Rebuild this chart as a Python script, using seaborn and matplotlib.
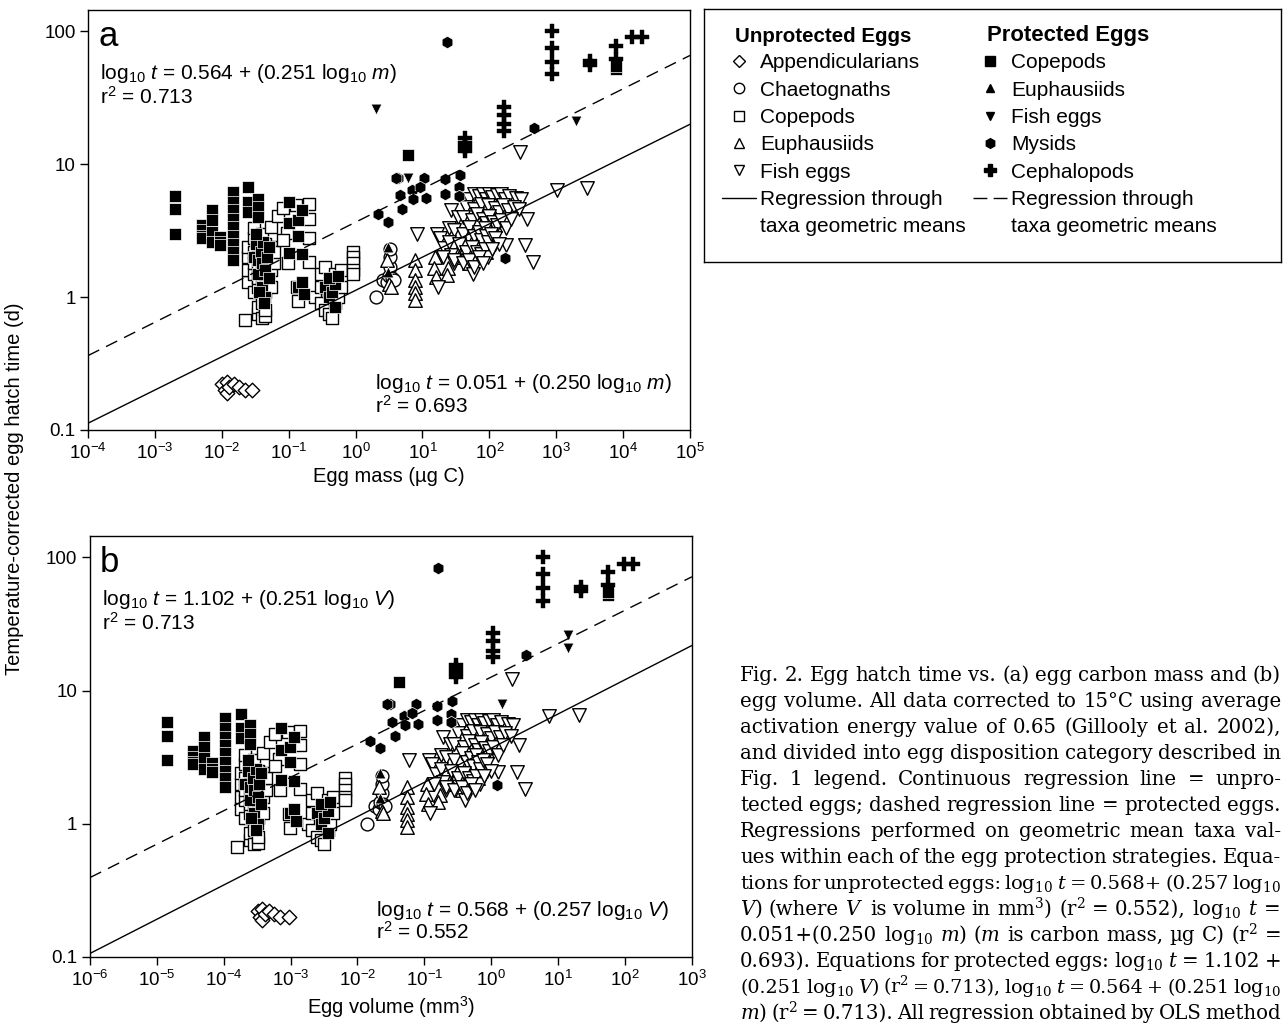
import numpy as np
import matplotlib
matplotlib.use('Agg')
import matplotlib.pyplot as plt
import seaborn as sns
from matplotlib.lines import Line2D
from matplotlib.ticker import NullLocator, FixedLocator, FixedFormatter, LogLocator, LogFormatterMathtext

sns.set_style('ticks')
plt.rcParams['font.family'] = ['Liberation Sans', 'DejaVu Sans']
plt.rcParams['mathtext.fontset'] = 'custom'
plt.rcParams['mathtext.rm'] = 'Liberation Sans'
plt.rcParams['mathtext.it'] = 'Liberation Sans:italic'
plt.rcParams['mathtext.bf'] = 'Liberation Sans:bold'
plt.rcParams['text.color'] = 'black'
plt.rcParams['axes.labelcolor'] = 'black'

# ---------------- data ----------------
# Unprotected eggs
app_t = [0.22, 0.20, 0.23, 0.19, 0.21, 0.22, 0.21, 0.20, 0.20]
app_mass = [0.010, 0.011, 0.012, 0.012, 0.013, 0.015, 0.018, 0.022, 0.028]
app_vol = [0.00032, 0.00035, 0.00038, 0.00038, 0.00041, 0.00048, 0.00057, 0.0007, 0.00095]

chae_t = [1.0, 1.35, 1.3, 1.45, 1.7, 2.0, 2.3, 1.4, 1.35]
chae_mass = [2.0, 2.6, 3.0, 3.2, 3.3, 3.3, 3.3, 3.5, 3.8]
chae_vol = [0.014, 0.018, 0.021, 0.022, 0.023, 0.023, 0.023, 0.024, 0.026]

copu_t = [1.3, 1.6, 2.0, 2.4, 1.1, 1.5, 1.8, 2.2, 2.8, 3.3,
          0.75, 0.85, 1.2, 1.4, 1.7, 2.0, 2.6, 0.7, 0.9, 1.3, 1.6, 1.9, 2.3, 3.0,
          0.72, 0.8, 1.1, 1.5, 2.1, 2.5, 1.2, 1.6, 2.4, 3.4, 1.8, 2.2, 0.67,
          4.1, 4.7, 3.05, 1.8, 2.7, 4.9, 5.0, 3.9, 2.8, 1.83, 0.93, 1.19,
          1.0, 1.5, 1.2, 0.9, 0.8, 1.7, 0.75, 1.1, 1.3, 0.7, 0.9, 1.5, 1.0, 1.2, 1.6,
          2.2, 2.0, 1.8, 1.6, 1.5]
copu_mass = [0.025, 0.025, 0.025, 0.025, 0.03, 0.03, 0.03, 0.03, 0.03, 0.03,
             0.035, 0.035, 0.035, 0.035, 0.035, 0.035, 0.035, 0.04, 0.04, 0.04, 0.04, 0.04, 0.04, 0.04,
             0.045, 0.045, 0.045, 0.045, 0.045, 0.045, 0.055, 0.055, 0.055, 0.055, 0.06, 0.06, 0.022,
             0.069, 0.083, 0.094, 0.097, 0.083, 0.13, 0.2, 0.2, 0.2, 0.2, 0.14, 0.135,
             0.25, 0.3, 0.3, 0.3, 0.35, 0.35, 0.4, 0.4, 0.45, 0.45, 0.5, 0.5, 0.55, 0.6, 0.6,
             0.9, 0.9, 0.9, 0.9, 0.9]
copu_vol = [0.00018, 0.00018, 0.00018, 0.00018, 0.00021, 0.00021, 0.00021, 0.00021, 0.00021, 0.00021,
            0.00025, 0.00025, 0.00025, 0.00025, 0.00025, 0.00025, 0.00025, 0.00028, 0.00028, 0.00028, 0.00028, 0.00028, 0.00028, 0.00028,
            0.00032, 0.00032, 0.00032, 0.00032, 0.00032, 0.00032, 0.00039, 0.00039, 0.00039, 0.00039, 0.00043, 0.00043, 0.00016,
            0.00049, 0.00059, 0.00067, 0.00069, 0.00059, 0.00092, 0.0014, 0.0014, 0.0014, 0.0014, 0.00099, 0.00096,
            0.0018, 0.0021, 0.0021, 0.0021, 0.0025, 0.0025, 0.0028, 0.0028, 0.0032, 0.0032, 0.0036, 0.0036, 0.0039, 0.0043, 0.0043,
            0.0064, 0.0064, 0.0064, 0.0064, 0.0064]

euphu_t = [1.9, 1.25, 1.2, 1.9, 1.6, 1.34, 1.19, 1.07, 0.95, 2.0, 1.66, 1.41, 1.65, 1.46,
           2.0, 2.4, 2.8, 3.2, 3.0, 1.8, 2.5, 2.2, 3.5, 2.7]
euphu_mass = [3.0, 3.2, 3.4, 7.8, 7.8, 7.8, 7.8, 7.8, 7.8, 15.5, 15.0, 16.0, 24.5, 23.0,
              35, 45, 60, 80, 100, 50, 70, 90, 120, 40]
euphu_vol = [0.021, 0.023, 0.024, 0.055, 0.055, 0.055, 0.055, 0.055, 0.055, 0.11, 0.107, 0.114, 0.17, 0.16,
             0.25, 0.32, 0.43, 0.57, 0.71, 0.36, 0.5, 0.64, 0.85, 0.28]

fishu_t = [3.0, 3.0, 1.2, 4.5, 4.0, 3.3, 2.8, 2.36, 2.06, 1.8, 1.5, 12.3, 6.4, 6.6, 3.9, 1.83, 2.45, 2.45, 2.5,
           5.5, 6.0, 5.8, 6.0, 5.5, 6.0, 5.7, 5.9, 6.0, 5.5, 5.8, 5.6, 5.5,
           4.8, 4.6, 5.0, 4.9, 4.7, 4.4, 4.9, 4.5, 4.8, 4.6,
           4.0, 3.8, 4.2, 3.9, 3.6, 4.1, 3.7, 3.5, 3.8, 3.3, 3.9,
           3.2, 3.0, 3.4, 2.9, 3.1, 2.7, 3.3, 2.9, 2.6, 3.0, 2.8, 2.5,
           2.6, 2.5, 2.2, 2.4, 2.2, 2.1, 2.3, 2.0, 2.3,
           2.0, 1.9, 1.8, 1.9, 1.7, 2.0, 1.8]
fishu_mass = [8.3, 16.5, 17, 27, 34, 25, 18, 21, 27, 30, 57, 290, 1020, 2900, 360, 450, 340, 180, 120,
              50, 60, 70, 80, 90, 100, 110, 130, 150, 170, 200, 250, 300,
              45, 60, 75, 95, 120, 140, 160, 190, 230, 280,
              40, 55, 65, 80, 90, 100, 115, 130, 150, 180, 210,
              30, 40, 50, 60, 70, 75, 85, 90, 95, 105, 120, 140,
              25, 35, 45, 55, 65, 75, 85, 95, 110,
              20, 30, 40, 50, 60, 70, 80]
fishu_vol = [0.059, 0.117, 0.12, 0.19, 0.24, 0.18, 0.13, 0.15, 0.19, 0.21, 0.40, 2.06, 7.2, 20.6, 2.56, 3.2, 2.4, 1.28, 0.85,
             0.36, 0.43, 0.5, 0.57, 0.64, 0.71, 0.78, 0.92, 1.07, 1.2, 1.42, 1.78, 2.13,
             0.32, 0.43, 0.53, 0.67, 0.85, 0.99, 1.14, 1.35, 1.63, 1.99,
             0.28, 0.39, 0.46, 0.57, 0.64, 0.71, 0.82, 0.92, 1.07, 1.28, 1.49,
             0.21, 0.28, 0.36, 0.43, 0.5, 0.53, 0.6, 0.64, 0.67, 0.75, 0.85, 0.99,
             0.18, 0.25, 0.32, 0.39, 0.46, 0.53, 0.6, 0.67, 0.78,
             0.14, 0.21, 0.28, 0.36, 0.43, 0.5, 0.57]

# Protected eggs
copp_t = [5.8, 4.6, 3.0, 3.5, 3.2, 2.9, 2.8, 4.5, 3.8, 3.1, 2.6, 2.84, 2.6, 2.46,
          6.2, 5.2, 4.5, 3.9, 3.4, 2.9, 2.5, 2.2, 1.9, 6.7, 5.2, 4.4, 5.5, 4.75, 4.0,
          2.0, 2.5, 1.9, 1.5, 2.2, 1.8, 1.2, 2.6, 1.6, 1.0, 2.0, 1.4, 1.1, 0.9, 2.4, 3.0,
          5.2, 3.6, 3.8, 2.9, 2.14, 2.1, 4.5, 1.2, 1.05, 1.3,
          1.2, 1.0, 1.1, 1.25, 1.4, 0.85, 1.45, 11.7, 52, 55]
copp_mass = [0.002, 0.002, 0.002, 0.005, 0.005, 0.005, 0.005, 0.0071, 0.0071, 0.0071, 0.0071, 0.0095, 0.0095, 0.0095,
             0.0145, 0.0145, 0.0145, 0.0145, 0.0145, 0.0145, 0.0145, 0.0145, 0.0145, 0.025, 0.025, 0.025, 0.035, 0.035, 0.035,
             0.03, 0.032, 0.035, 0.035, 0.038, 0.04, 0.04, 0.042, 0.045, 0.045, 0.048, 0.05, 0.036, 0.043, 0.05, 0.033,
             0.1, 0.1, 0.14, 0.14, 0.1, 0.16, 0.16, 0.14, 0.17, 0.16,
             0.35, 0.4, 0.45, 0.5, 0.4, 0.5, 0.55, 6.0, 7800, 7800]
copp_vol = [1.4e-5, 1.4e-5, 1.4e-5, 3.5e-5, 3.5e-5, 3.5e-5, 3.5e-5, 5.0e-5, 5.0e-5, 5.0e-5, 5.0e-5, 6.7e-5, 6.7e-5, 6.7e-5,
            1.03e-4, 1.03e-4, 1.03e-4, 1.03e-4, 1.03e-4, 1.03e-4, 1.03e-4, 1.03e-4, 1.03e-4, 1.8e-4, 1.8e-4, 1.8e-4, 2.5e-4, 2.5e-4, 2.5e-4,
            2.1e-4, 2.3e-4, 2.5e-4, 2.5e-4, 2.7e-4, 2.8e-4, 2.8e-4, 3.0e-4, 3.2e-4, 3.2e-4, 3.4e-4, 3.6e-4, 2.6e-4, 3.05e-4, 3.6e-4, 2.3e-4,
            7.1e-4, 7.1e-4, 9.9e-4, 9.9e-4, 7.1e-4, 1.14e-3, 1.14e-3, 9.9e-4, 1.2e-3, 1.14e-3,
            2.5e-3, 2.8e-3, 3.2e-3, 3.6e-3, 2.8e-3, 3.6e-3, 3.9e-3, 0.042, 55, 55]

euphp_t = [2.4, 1.55]
euphp_mass = [3.1, 3.1]
euphp_vol = [0.022, 0.022]

fishp_t = [26, 21, 7.9]
fishp_mass = [2.0, 2000, 6.0]
fishp_vol = [14, 14, 1.45]

mys_t = [83, 18.6, 4.2, 3.7, 5.85, 4.6, 7.9, 6.4, 5.5, 7.9, 5.6, 7.7, 6.0, 8.3, 6.7, 5.8, 6.8, 1.96, 7.9]
mys_mass = [23, 470, 2.2, 3.1, 4.6, 5.0, 4.3, 7.0, 7.3, 10.7, 11.4, 22, 22, 36, 35, 35, 9.3, 170, 4.0]
mys_vol = [0.16, 3.3, 0.0156, 0.022, 0.033, 0.036, 0.031, 0.05, 0.052, 0.076, 0.081, 0.156, 0.156, 0.26, 0.25, 0.25, 0.066, 1.2, 0.028]

ceph_t = [100, 75, 59, 47.5, 27, 23.5, 20, 17.8, 15.7, 14.5, 13.5, 12.6, 60, 56, 78, 62, 90, 90]
ceph_mass = [850, 850, 850, 850, 166, 166, 166, 166, 44, 44, 44, 44, 3150, 3150, 7800, 7800, 13800, 19000]
ceph_vol = [5.9, 5.9, 5.9, 5.9, 1.05, 1.05, 1.05, 1.05, 0.30, 0.30, 0.30, 0.30, 22, 22, 55, 55, 95, 132]

# regression coefficients (intercept, slope) of log10 t on log10 x
fit_mass_unprot = (0.051, 0.250)
fit_mass_prot = (0.564, 0.251)
fit_vol_unprot = (0.568, 0.257)
fit_vol_prot = (1.102, 0.251)
mass_range = [1e-4, 1e5]
vol_range = [1e-6, 1e3]

caption_lines = [
    "Fig. 2. Egg hatch time vs. (a) egg carbon mass and (b)",
    "egg volume. All data corrected to 15°C using average",
    "activation energy value of 0.65 (Gillooly et al. 2002),",
    "and divided into egg disposition category described in",
    "Fig. 1 legend. Continuous regression line = unpro-",
    "tected eggs; dashed regression line = protected eggs.",
    "Regressions performed on geometric mean taxa val-",
    "ues within each of the egg protection strategies. Equa-",
    "tions for unprotected eggs: log$_{10}$ $t$ = 0.568+ (0.257 log$_{10}$",
    "$V$) (where $V$ is volume in mm$^3$) (r$^2$ = 0.552), log$_{10}$ $t$ =",
    "0.051+(0.250 log$_{10}$ $m$) ($m$ is carbon mass, µg C) (r$^2$ =",
    "0.693). Equations for protected eggs: log$_{10}$ $t$ = 1.102 +",
    "(0.251 log$_{10}$ $V$) (r$^2$ = 0.713), log$_{10}$ $t$ = 0.564 + (0.251 log$_{10}$",
    "$m$) (r$^2$ = 0.713). All regression obtained by OLS method",
]

# ---------------- styles ----------------
OPEN = dict(color='white', edgecolor='black', linewidth=1.0)
FILLED = dict(color='black', edgecolor='white', linewidth=0.5)
layers = [
    (copu_t, copu_mass, copu_vol, 's', 75, OPEN),
    (app_t, app_mass, app_vol, 'D', 55, OPEN),
    (chae_t, chae_mass, chae_vol, 'o', 85, OPEN),
    (euphu_t, euphu_mass, euphu_vol, '^', 95, OPEN),
    (fishu_t, fishu_mass, fishu_vol, 'v', 95, OPEN),
    (copp_t, copp_mass, copp_vol, 's', 75, FILLED),
    (euphp_t, euphp_mass, euphp_vol, '^', 60, FILLED),
    (fishp_t, fishp_mass, fishp_vol, 'v', 60, FILLED),
    (mys_t, mys_mass, mys_vol, 'h', 80, FILLED),
    (ceph_t, ceph_mass, ceph_vol, 'P', 90, dict(color='black', edgecolor='black', linewidth=0.3)),
]

fig = plt.figure(figsize=(12.83, 10.26), dpi=100)
ax_a = fig.add_axes([0.0686, 0.5809, 0.4692, 0.4094])
ax_b = fig.add_axes([0.0701, 0.0673, 0.4692, 0.4103])


def draw_panel(ax, which, xrange_, fit_u, fit_p, letter, eq_top, eq_bot, xlabel):
    ax.set_xscale('log')
    ax.set_yscale('log')
    for t, m, v, mk, s, st in layers:
        x = m if which == 'mass' else v
        sns.scatterplot(x=x, y=t, marker=mk, s=s, ax=ax, legend=False, **st)
    xr = np.array(xrange_)
    sns.lineplot(x=xr, y=10 ** (fit_u[0] + fit_u[1] * np.log10(xr)), color='black', lw=1.0, ax=ax)
    sns.lineplot(x=xr, y=10 ** (fit_p[0] + fit_p[1] * np.log10(xr)), color='black', lw=1.0,
                 linestyle=(0, (9, 5.5)), ax=ax)
    ax.set_xlim(*xrange_)
    ax.set_ylim(0.1, 145)
    ax.xaxis.set_major_locator(LogLocator(base=10, numticks=20))
    ax.xaxis.set_major_formatter(LogFormatterMathtext())
    ax.xaxis.set_minor_locator(NullLocator())
    ax.yaxis.set_major_locator(FixedLocator([0.1, 1, 10, 100]))
    ax.yaxis.set_major_formatter(FixedFormatter(['0.1', '1', '10', '100']))
    ax.yaxis.set_minor_locator(NullLocator())
    ax.tick_params(direction='out', length=6, width=1, labelsize=13.5, colors='black', pad=3)
    for sp in ax.spines.values():
        sp.set_visible(True)
        sp.set_linewidth(1.0)
        sp.set_color('black')
    ax.set_xlabel(xlabel, fontsize=14.5, labelpad=3)
    ax.set_ylabel('')
    ax.text(0.017, 0.915, letter, transform=ax.transAxes, fontsize=25, va='baseline')
    ax.text(0.02, 0.835, eq_top[0], transform=ax.transAxes, fontsize=15, va='baseline')
    ax.text(0.02, 0.777, eq_top[1], transform=ax.transAxes, fontsize=15, va='baseline')
    ax.text(0.476, 0.097, eq_bot[0], transform=ax.transAxes, fontsize=15, va='baseline')
    ax.text(0.476, 0.042, eq_bot[1], transform=ax.transAxes, fontsize=15, va='baseline')


draw_panel(ax_a, 'mass', mass_range, fit_mass_unprot, fit_mass_prot, 'a',
           (r'log$_{10}$ $t$ = 0.564 + (0.251 log$_{10}$ $m$)', r'r$^2$ = 0.713'),
           (r'log$_{10}$ $t$ = 0.051 + (0.250 log$_{10}$ $m$)', r'r$^2$ = 0.693'),
           'Egg mass (µg C)')
draw_panel(ax_b, 'vol', vol_range, fit_vol_unprot, fit_vol_prot, 'b',
           (r'log$_{10}$ $t$ = 1.102 + (0.251 log$_{10}$ $V$)', r'r$^2$ = 0.713'),
           (r'log$_{10}$ $t$ = 0.568 + (0.257 log$_{10}$ $V$)', r'r$^2$ = 0.552'),
           'Egg volume (mm$^3$)')

fig.text(0.011, 0.524, 'Temperature-corrected egg hatch time (d)', rotation=90,
         ha='center', va='center', fontsize=14.5)

# ---------------- legend box ----------------
ax_leg = fig.add_axes([0.5487, 0.7446, 0.4497, 0.2466])
ax_leg.set_xticks([])
ax_leg.set_yticks([])
for sp in ax_leg.spines.values():
    sp.set_linewidth(1.0)
    sp.set_color('black')


def mk(marker, filled, ms=7):
    return Line2D([], [], ls='none', marker=marker, ms=ms,
                  mfc='black' if filled else 'white', mec='black', mew=1)


blank = Line2D([], [], ls='none')
left_h = [mk('D', False, 6.5), mk('o', False, 7.5), mk('s', False, 7), mk('^', False, 7.5),
          mk('v', False, 7.5), Line2D([], [], color='black', lw=1), blank]
left_l = ['Appendicularians', 'Chaetognaths', 'Copepods', 'Euphausiids', 'Fish eggs',
          'Regression through', 'taxa geometric means']
right_h = [mk('s', True, 6.5), mk('^', True, 6), mk('v', True, 6), mk('h', True, 7), mk('P', True, 8.5),
           Line2D([], [], color='black', lw=1, linestyle=(0, (10, 4.5))), blank]
right_l = ['Copepods', 'Euphausiids', 'Fish eggs', 'Mysids', 'Cephalopods',
           'Regression through', 'taxa geometric means']
common = dict(loc='upper left', frameon=False, fontsize=15, handlelength=1.65, handletextpad=0.2,
              labelspacing=0.4, borderpad=0, borderaxespad=0)
leg1 = ax_leg.legend(left_h, left_l, bbox_to_anchor=(0.031, 0.825), **common)
ax_leg.add_artist(leg1)
ax_leg.legend(right_h, right_l, bbox_to_anchor=(0.466, 0.825), **common)
ax_leg.text(0.054, 0.87, 'Unprotected Eggs', fontsize=14.8, fontweight='bold',
            transform=ax_leg.transAxes, va='baseline')
ax_leg.text(0.49, 0.874, 'Protected Eggs', fontsize=15.9, fontweight='bold',
            transform=ax_leg.transAxes, va='baseline')

# ---------------- justified caption ----------------
renderer = fig.canvas.get_renderer()
W, H = 1283.0, 1026.0
x_left, x_right = 740.0, 1281.0
for i, line in enumerate(caption_lines):
    words = line.split(' ')
    fs = 14.2
    while True:
        kw = dict(fontsize=fs, family='DejaVu Serif', math_fontfamily='dejavuserif', va='baseline')
        widths = []
        for w in words:
            tmp = fig.text(0, 0, w, **kw)
            widths.append(tmp.get_window_extent(renderer).width)
            tmp.remove()
        gap = (x_right - x_left - sum(widths)) / max(len(words) - 1, 1)
        if gap >= 3.0 or fs < 9:
            break
        fs -= 0.2
    x = x_left
    y = 1 - (681 + i * 26) / H
    for w, wd in zip(words, widths):
        fig.text(x / W, y, w, **kw)
        x += wd + gap

fig.savefig('out.png', dpi=100)
